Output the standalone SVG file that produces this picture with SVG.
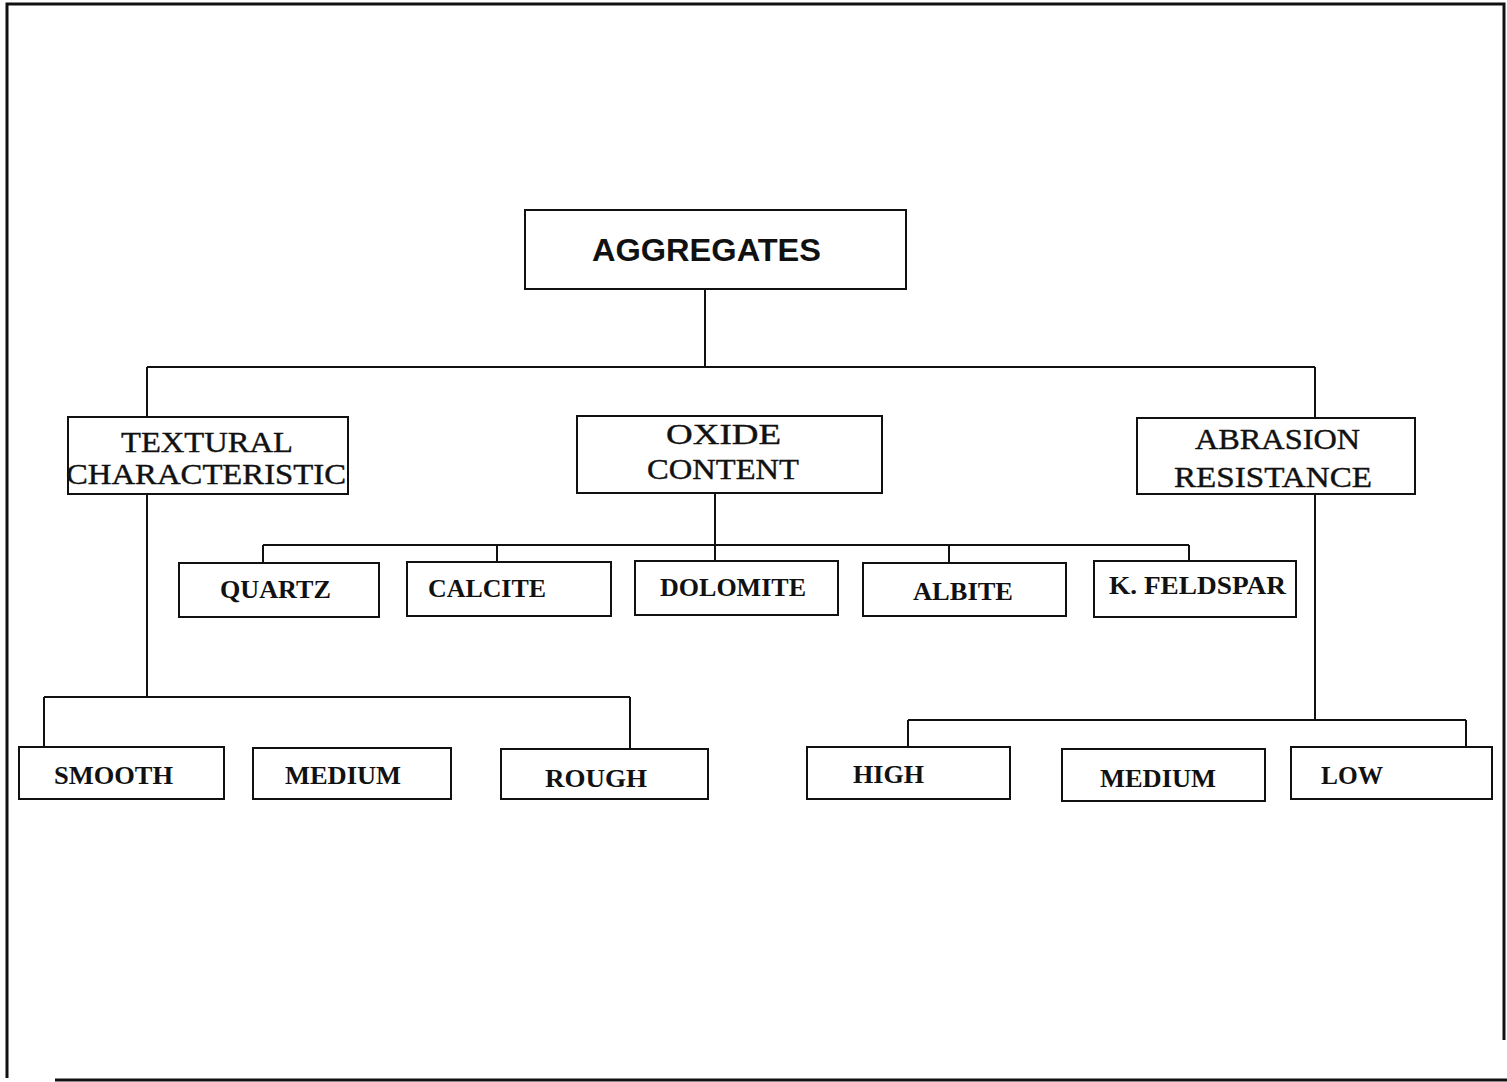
<svg xmlns="http://www.w3.org/2000/svg" width="1507" height="1082" viewBox="0 0 1507 1082">
  <style>
    .frame { fill: none; stroke: #111; stroke-width: 3; }
    .box { fill: #fff; stroke: #111; stroke-width: 2; }
    .wire { fill: none; stroke: #111; stroke-width: 2; }
    .sans { font-family: "Liberation Sans", Arial, sans-serif; font-weight: bold; font-size: 32px; fill: #111; }
    .serif { font-family: "Liberation Serif", "Times New Roman", serif; font-size: 30px; fill: #111; stroke: #111; stroke-width: 0.4; }
    .leaf { font-family: "Liberation Serif", "Times New Roman", serif; font-weight: bold; font-size: 25px; fill: #111; }
  </style>
  <rect width="1507" height="1082" fill="#fff"/>

  <!-- page border -->
  <path class="frame" d="M7 1078 V4 H1504 V1040 M55 1080 H1507"/>

  <!-- connectors -->
  <g id="connectors">
    <path class="wire" d="M705 289 V367 M147 367 H1315 M147 367 V417 M1315 367 V418"/>
    <path class="wire" d="M715 493 V545 M263 545 H1189 M263 545 V563 M497 545 V562 M715 545 V561 M949 545 V563 M1189 545 V561"/>
    <path class="wire" d="M147 494 V697 M44 697 H630 M44 697 V747 M630 697 V749"/>
    <path class="wire" d="M1315 494 V720 M908 720 H1466 M908 720 V747 M1466 720 V747"/>
  </g>

  <!-- root -->
  <g id="aggregates">
    <rect class="box" x="525" y="210" width="381" height="79"/>
    <text class="sans" x="592" y="261" textLength="229" lengthAdjust="spacingAndGlyphs">AGGREGATES</text>
  </g>

  <!-- second level -->
  <g id="textural">
    <rect class="box" x="68" y="417" width="280" height="77"/>
    <text class="serif" x="121" y="452" textLength="172" lengthAdjust="spacingAndGlyphs">TEXTURAL</text>
    <text class="serif" x="66" y="484" textLength="280" lengthAdjust="spacingAndGlyphs">CHARACTERISTIC</text>
  </g>
  <g id="oxide">
    <rect class="box" x="577" y="416" width="305" height="77"/>
    <text class="serif" x="666" y="444" textLength="115" lengthAdjust="spacingAndGlyphs">OXIDE</text>
    <text class="serif" x="647" y="479" textLength="152" lengthAdjust="spacingAndGlyphs">CONTENT</text>
  </g>
  <g id="abrasion">
    <rect class="box" x="1137" y="418" width="278" height="76"/>
    <text class="serif" x="1195" y="449" textLength="165" lengthAdjust="spacingAndGlyphs">ABRASION</text>
    <text class="serif" x="1174" y="487" textLength="198" lengthAdjust="spacingAndGlyphs">RESISTANCE</text>
  </g>

  <!-- oxide content -->
  <g id="quartz">
    <rect class="box" x="179" y="563" width="200" height="54"/>
    <text class="leaf" x="220" y="598" textLength="111" lengthAdjust="spacingAndGlyphs">QUARTZ</text>
  </g>
  <g id="calcite">
    <rect class="box" x="407" y="562" width="204" height="54"/>
    <text class="leaf" x="428" y="597" textLength="118" lengthAdjust="spacingAndGlyphs">CALCITE</text>
  </g>
  <g id="dolomite">
    <rect class="box" x="635" y="561" width="203" height="54"/>
    <text class="leaf" x="660" y="596" textLength="146" lengthAdjust="spacingAndGlyphs">DOLOMITE</text>
  </g>
  <g id="albite">
    <rect class="box" x="863" y="563" width="203" height="53"/>
    <text class="leaf" x="913" y="600" textLength="100" lengthAdjust="spacingAndGlyphs">ALBITE</text>
  </g>
  <g id="kfeldspar">
    <rect class="box" x="1094" y="561" width="202" height="56"/>
    <text class="leaf" x="1109" y="594" textLength="177" lengthAdjust="spacingAndGlyphs">K. FELDSPAR</text>
  </g>

  <!-- texture classes -->
  <g id="smooth">
    <rect class="box" x="19" y="747" width="205" height="52"/>
    <text class="leaf" x="54" y="784" textLength="119" lengthAdjust="spacingAndGlyphs">SMOOTH</text>
  </g>
  <g id="medium-texture">
    <rect class="box" x="253" y="748" width="198" height="51"/>
    <text class="leaf" x="285" y="784" textLength="116" lengthAdjust="spacingAndGlyphs">MEDIUM</text>
  </g>
  <g id="rough">
    <rect class="box" x="501" y="749" width="207" height="50"/>
    <text class="leaf" x="545" y="787" textLength="102" lengthAdjust="spacingAndGlyphs">ROUGH</text>
  </g>

  <!-- abrasion classes -->
  <g id="high">
    <rect class="box" x="807" y="747" width="203" height="52"/>
    <text class="leaf" x="853" y="783" textLength="71" lengthAdjust="spacingAndGlyphs">HIGH</text>
  </g>
  <g id="medium-abrasion">
    <rect class="box" x="1062" y="749" width="203" height="52"/>
    <text class="leaf" x="1100" y="787" textLength="116" lengthAdjust="spacingAndGlyphs">MEDIUM</text>
  </g>
  <g id="low">
    <rect class="box" x="1291" y="747" width="201" height="52"/>
    <text class="leaf" x="1321" y="784" textLength="62" lengthAdjust="spacingAndGlyphs">LOW</text>
  </g>
</svg>
